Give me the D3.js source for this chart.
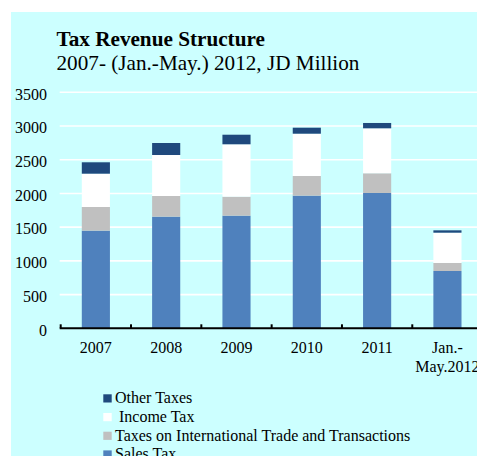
<!DOCTYPE html>
<html>
<head>
<meta charset="utf-8">
<script src="https://cdn.jsdelivr.net/npm/d3@7"></script>
<style>
  html, body { margin: 0; padding: 0; background: #ffffff; overflow: hidden; }
  svg { display: block; font-family: "Liberation Serif", "Times New Roman", serif; }
</style>
</head>
<body>
<svg id="chart" width="477" height="456"></svg>
<script>
// Tax revenue by year, JD million
const categories = ["2007", "2008", "2009", "2010", "2011", "Jan.-\nMay.2012"];
const salesTax   = [1448, 1655, 1670, 1967, 2007, 850];
const tradeTax   = [351, 307, 282, 292, 292, 119];
const incomeTax  = [494, 608, 777, 627, 667, 449];
const otherTaxes = [169, 178, 142, 89, 79, 35];
const yTicks     = [0, 500, 1000, 1500, 2000, 2500, 3000, 3500];

const seriesKeys   = ["sales", "trade", "income", "other"];
const seriesNames  = {
  sales: "Sales Tax",
  trade: "Taxes on International Trade and Transactions",
  income: " Income Tax",
  other: "Other Taxes"
};
const seriesColors = { sales: "#4f81bd", trade: "#c0c0c0", income: "#ffffff", other: "#1f497d" };

const table = categories.map((c, i) => ({
  cat: c, sales: salesTax[i], trade: tradeTax[i], income: incomeTax[i], other: otherTaxes[i]
}));

const svg = d3.select("#chart");

// panel background
svg.append("rect").attr("x", 11).attr("y", 12).attr("width", 477).attr("height", 456)
  .attr("fill", "#ccffff");

const plot = { left: 60.7, right: 482.6, top: 92.3, bottom: 328.3 };

const x = d3.scaleBand().domain(categories).range([plot.left, plot.right])
  .paddingInner(0.6).paddingOuter(0.3);
const y = d3.scaleLinear().domain([0, 3500]).range([plot.bottom, plot.top]);

// horizontal gridlines
svg.append("g").selectAll("line").data(yTicks.filter(t => t > 0)).join("line")
  .attr("x1", plot.left - 1).attr("x2", 477)
  .attr("y1", d => y(d)).attr("y2", d => y(d))
  .attr("stroke", "#ffffff").attr("stroke-width", 1.6);

// y tick labels
const yAxis = svg.append("g").attr("transform", `translate(${47},0)`)
  .call(d3.axisLeft(y).tickValues(yTicks).tickSize(0).tickPadding(0).tickFormat(d3.format("d")));
yAxis.select(".domain").remove();
yAxis.selectAll("text").attr("font-size", 16).attr("fill", "#000")
  .attr("font-family", "Liberation Serif, serif").attr("dy", "0.42em");

// stacked bars
const stack = d3.stack().keys(seriesKeys)(table);
svg.append("g").selectAll("g").data(stack).join("g")
  .attr("fill", d => seriesColors[d.key])
  .selectAll("rect").data(d => d).join("rect")
  .attr("x", d => x(d.data.cat))
  .attr("width", x.bandwidth())
  .attr("y", d => y(d[1]))
  .attr("height", d => y(d[0]) - y(d[1]));

// category axis
const xAxisG = svg.append("g").attr("transform", `translate(0,${plot.bottom})`);
const boundaries = [plot.left].concat(categories.slice(1).map(c => x(c) - x.step() * x.paddingInner() / 2));
xAxisG.append("line").attr("x1", plot.left - 1).attr("x2", 477).attr("y1", 0).attr("y2", 0)
  .attr("stroke", "#000").attr("stroke-width", 2);
xAxisG.selectAll("line.tick").data(boundaries).join("line").attr("class", "tick")
  .attr("x1", d => d).attr("x2", d => d).attr("y1", 0).attr("y2", -4)
  .attr("stroke", "#000").attr("stroke-width", 2);

xAxisG.selectAll("text").data(categories).join("text")
  .attr("text-anchor", "middle").attr("font-size", 16).attr("fill", "#000")
  .attr("x", d => x(d) + x.bandwidth() / 2)
  .each(function (d) {
    const lines = d.split("\n");
    d3.select(this).selectAll("tspan").data(lines).join("tspan")
      .attr("x", x(d) + x.bandwidth() / 2)
      .attr("y", (l, i) => 25 + i * 18.4)
      .text(l => l);
  });

// titles
svg.append("text").attr("x", 56.5).attr("y", 45.7).attr("font-size", 21.2).attr("font-weight", "bold")
  .attr("fill", "#000").text("Tax Revenue Structure");
svg.append("text").attr("x", 56.5).attr("y", 69.5).attr("font-size", 21.2)
  .attr("fill", "#000").text("2007- (Jan.-May.) 2012, JD Million");

// legend
const legendOrder = ["other", "income", "trade", "sales"];
const lg = svg.append("g").selectAll("g").data(legendOrder).join("g")
  .attr("transform", (d, i) => `translate(103.3,${394.3 + i * 18.7})`);
lg.append("rect").attr("width", 8.4).attr("height", 8.2).attr("fill", d => seriesColors[d]);
lg.append("text").attr("x", 11.7).attr("y", 9).attr("font-size", 16).attr("fill", "#000")
  .attr("xml:space", "preserve").style("white-space", "pre")
  .text(d => seriesNames[d]);
</script>
</body>
</html>
